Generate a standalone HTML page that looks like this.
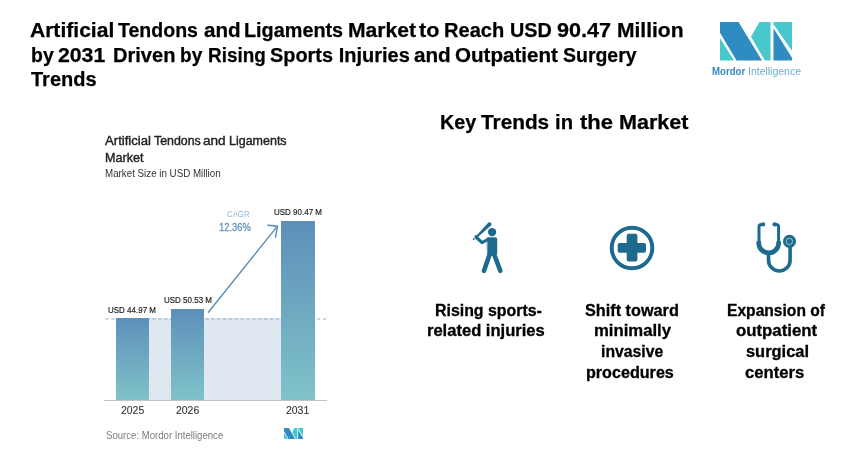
<!DOCTYPE html>
<html><head><meta charset="utf-8">
<style>
html,body{margin:0;padding:0;background:#fff;}
body{width:860px;height:469px;position:relative;overflow:hidden;font-family:"Liberation Sans",sans-serif;}
.a{position:absolute;white-space:nowrap;}
.title{left:31px;top:17.8px;font-size:20px;font-weight:700;line-height:24.3px;color:#000;-webkit-text-stroke:0.25px #000;}
.kt{top:110.3px;font-size:21px;font-weight:700;color:#000;line-height:24px;-webkit-text-stroke:0.25px #000;}
.tr{font-size:16px;font-weight:700;color:#000;line-height:20px;-webkit-text-stroke:0.3px #000;}
.ct{left:105px;top:133px;font-size:12.6px;color:#222;line-height:16.6px;-webkit-text-stroke:0.4px #222;}
.cs{left:105px;top:168.4px;font-size:10.4px;line-height:12px;color:#333;transform:scaleX(0.94);transform-origin:0 0;}
.lbl{font-size:9.9px;line-height:11px;color:#222;transform:scaleX(0.81);transform-origin:0 0;font-weight:400;-webkit-text-stroke:0.2px #222;}
.yr{font-size:11.6px;line-height:13px;color:#333;transform:scaleX(0.9);transform-origin:0 0;-webkit-text-stroke:0.1px #333;}
.bar{position:absolute;background:linear-gradient(#5d8fba,#80c3c8);}
</style></head><body><div style="position:absolute;left:0;top:0;width:860px;height:469px;will-change:transform;background:#fff">
<div class="a title" style="left:30.4px;top:18.3px;transform:scaleX(1.054);transform-origin:1px 0">Artificial</div>
<div class="a title" style="left:118.4px;top:18.3px;transform:scaleX(0.977);transform-origin:0px 0">Tendons</div>
<div class="a title" style="left:203.5px;top:18.3px;transform:scaleX(1.030);transform-origin:1px 0">and</div>
<div class="a title" style="left:244.3px;top:18.3px;transform:scaleX(0.991);transform-origin:1px 0">Ligaments</div>
<div class="a title" style="left:348.3px;top:18.3px;transform:scaleX(1.056);transform-origin:1px 0">Market</div>
<div class="a title" style="left:419.0px;top:18.3px;transform:scaleX(1.080);transform-origin:0px 0">to</div>
<div class="a title" style="left:444.4px;top:18.3px;transform:scaleX(1.003);transform-origin:1px 0">Reach</div>
<div class="a title" style="left:509.9px;top:18.3px;transform:scaleX(0.988);transform-origin:1px 0">USD</div>
<div class="a title" style="left:557.1px;top:18.3px;transform:scaleX(1.080);transform-origin:1px 0">90.47</div>
<div class="a title" style="left:617.0px;top:18.3px;transform:scaleX(1.052);transform-origin:1px 0">Million</div>
<div class="a title" style="left:31.3px;top:42.6px;transform:scaleX(0.973);transform-origin:1px 0">by</div>
<div class="a title" style="left:58.2px;top:42.6px;transform:scaleX(1.063);transform-origin:1px 0">2031</div>
<div class="a title" style="left:112.6px;top:42.6px;transform:scaleX(1.003);transform-origin:1px 0">Driven</div>
<div class="a title" style="left:179.8px;top:42.6px;transform:scaleX(0.950);transform-origin:1px 0">by</div>
<div class="a title" style="left:207.6px;top:42.6px;transform:scaleX(0.944);transform-origin:1px 0">Rising</div>
<div class="a title" style="left:270.3px;top:42.6px;transform:scaleX(0.994);transform-origin:1px 0">Sports</div>
<div class="a title" style="left:338.7px;top:42.6px;transform:scaleX(1.000);transform-origin:1px 0">Injuries</div>
<div class="a title" style="left:414.4px;top:42.6px;transform:scaleX(1.033);transform-origin:1px 0">and</div>
<div class="a title" style="left:454.9px;top:42.6px;transform:scaleX(1.029);transform-origin:1px 0">Outpatient</div>
<div class="a title" style="left:562.8px;top:42.6px;transform:scaleX(0.973);transform-origin:1px 0">Surgery</div>
<div class="a title" style="top:66.9px">Trends</div>

<!-- logo -->
<svg class="a" style="left:720px;top:22.2px" width="72" height="38.6" viewBox="0 0 72 38.6">
<polygon fill="#2e8cc0" points="0,0 18.5,0 42,38.6 16.5,38.6 0,10.8"/>
<polygon fill="#46c8cc" points="0,16.3 14,38.6 0,38.6"/>
<polygon fill="#46c8cc" points="39.5,0 50.5,0 50.5,38.6 45,38.6 31,14.8"/>
<polygon fill="#46c8cc" points="53.5,0 72,0 72,28.8 53.5,2.3"/>
<polygon fill="#2e8cc0" points="53.5,6.3 72,35.8 72,38.6 53.5,38.6"/>
</svg>
<div class="a" style="left:712px;top:64.8px;font-size:11px;line-height:13px;font-weight:700;color:#3a8bc0;transform:scaleX(0.876);transform-origin:0 0;">Mordor</div>
<div class="a" style="left:748.3px;top:64.8px;font-size:11px;line-height:13px;color:#6aaed0;transform:scaleX(0.952);transform-origin:0 0;">Intelligence</div>

<!-- chart -->
<div class="a ct" style="left:105.3px;transform:scaleX(1.044);transform-origin:0px 0">Artificial</div>
<div class="a ct" style="left:153.9px;transform:scaleX(0.983);transform-origin:0px 0">Tendons</div>
<div class="a ct" style="left:203.4px;transform:scaleX(1.082);transform-origin:1px 0">and</div>
<div class="a ct" style="left:228.8px;transform:scaleX(0.991);transform-origin:1px 0">Ligaments</div>
<div class="a ct" style="top:149.6px">Market</div>
<div class="a cs">Market Size in USD Million</div>

<div class="a" style="left:116px;top:318px;width:199px;height:83px;background:#dfe8f0;"></div>
<svg class="a" style="left:0;top:0" width="860" height="469"><line x1="105.36" y1="319" x2="328" y2="319" stroke="#8fb0c8" stroke-width="1.1" stroke-dasharray="3.3,2.58"/></svg>
<div class="bar" style="left:116px;top:318px;width:33px;height:82.5px;"></div>
<div class="bar" style="left:171px;top:309px;width:33px;height:91.5px;"></div>
<div class="bar" style="left:281.2px;top:221px;width:33.5px;height:179.5px;"></div>
<svg class="a" style="left:0;top:0" width="860" height="469">
<line x1="104" y1="400.5" x2="327" y2="400.5" stroke="#c4c4c4" stroke-width="1"/>
<g stroke="#5a8db5" stroke-width="1.4" fill="none" stroke-linecap="round">
<line x1="208.4" y1="312.2" x2="277.2" y2="226.4"/>
<polyline points="267.8,225.3 277.4,226.2 275.6,237.2"/>
</g>
</svg>
<div class="a lbl" style="left:108px;top:304.1px;">USD 44.97 M</div>
<div class="a lbl" style="left:163.5px;top:294.1px;">USD 50.53 M</div>
<div class="a lbl" style="left:273.5px;top:206.1px;">USD 90.47 M</div>
<div class="a" style="left:227.2px;top:208.6px;font-size:8.9px;line-height:10px;color:#93b6cf;transform:scaleX(0.88);transform-origin:0 0;">CAGR</div>
<div class="a" style="left:218.9px;top:220.8px;font-size:11.4px;line-height:13px;color:#5f93bd;transform:scaleX(0.825);transform-origin:0 0;-webkit-text-stroke:0.3px #5f93bd;">12.36%</div>
<div class="a yr" style="left:120.8px;top:403px;">2025</div>
<div class="a yr" style="left:176px;top:403px;">2026</div>
<div class="a yr" style="left:286px;top:403px;">2031</div>
<div class="a" style="left:106px;top:429px;font-size:10.6px;line-height:13px;color:#7d7d7d;transform:scaleX(0.905);transform-origin:0 0;">Source: Mordor Intelligence</div>
<svg class="a" style="left:283.8px;top:427.8px" width="19.1" height="11" viewBox="0 0 72 38.6" preserveAspectRatio="none">
<polygon fill="#2e8cc0" points="0,0 18.5,0 42,38.6 16.5,38.6 0,10.8"/>
<polygon fill="#46c8cc" points="0,16.3 14,38.6 0,38.6"/>
<polygon fill="#46c8cc" points="39.5,0 50.5,0 50.5,38.6 45,38.6 31,14.8"/>
<polygon fill="#46c8cc" points="53.5,0 72,0 72,28.8 53.5,2.3"/>
<polygon fill="#2e8cc0" points="53.5,6.3 72,35.8 72,38.6 53.5,38.6"/>
</svg>

<!-- key trends -->
<div class="a kt" style="left:439.6px;transform:scaleX(0.941);transform-origin:1px 0">Key</div>
<div class="a kt" style="left:481.4px;transform:scaleX(0.990);transform-origin:0px 0">Trends</div>
<div class="a kt" style="left:555.2px;transform:scaleX(0.962);transform-origin:1px 0">in</div>
<div class="a kt" style="left:580.0px;transform:scaleX(1.048);transform-origin:0px 0">the</div>
<div class="a kt" style="left:619.0px;transform:scaleX(1.027);transform-origin:1px 0">Market</div>

<svg class="a" style="left:0;top:0" width="860" height="469">
<!-- baseball player -->
<g fill="#1d6a8e" stroke="#1d6a8e" stroke-linecap="round" stroke-linejoin="round">
<circle cx="492.1" cy="232.1" r="4.15" stroke="none"/>
<circle cx="489.6" cy="224.1" r="1.9" stroke="none"/>
<polygon points="490.94,225.45 488.26,222.75 476.8,235.29 478.2,236.71" stroke="none"/>
<circle cx="476.4" cy="237" r="2" stroke="none"/>
<circle cx="473.7" cy="239.2" r="0.9" stroke="none"/>
<polyline points="476.5,237.5 482,242.6 488.5,239.2" fill="none" stroke-width="3.1"/>
<path d="M487.4,237.4 H495.4 Q497,237.4 497,239 V253.8 L492,255.5 L487.4,253.8 Z" stroke-width="0.4"/>
<line x1="489.6" y1="254.4" x2="484" y2="270.8" stroke-width="4.6"/>
<line x1="494.2" y1="254.4" x2="500.3" y2="270.8" stroke-width="4.6"/>
</g>
<!-- medical cross -->
<circle cx="632" cy="248" r="20.3" fill="none" stroke="#1d6a8e" stroke-width="3.9"/>
<rect x="617.7" y="243.1" width="28.3" height="9.6" rx="2" fill="#1d6a8e"/>
<rect x="626.7" y="233.7" width="10.7" height="27.7" rx="2" fill="#1d6a8e"/>
<!-- stethoscope -->
<g fill="none" stroke="#1d6a8e">
<path d="M763,224.4 H761.5 A2.5,2.5 0 0 0 759,226.9 V242" stroke-width="3"/>
<path d="M774.6,224.4 H776.1 A2.5,2.5 0 0 1 778.6,226.9 V242" stroke-width="3"/>
<path d="M758.75,241.2 V243 A9.95,9.95 0 0 0 778.65,243 V241.2" stroke-width="4.7"/>
<path d="M768.5,252 V260.2 A10.8,10.8 0 0 0 790.1,260.2 V246" stroke-width="3.6"/>
</g>
<circle cx="763.1" cy="224.4" r="2.1" fill="#1d6a8e"/>
<circle cx="774.6" cy="224.4" r="2.1" fill="#1d6a8e"/>
<circle cx="789.5" cy="241.3" r="6.5" fill="#1d6a8e"/>
<circle cx="789.4" cy="241.4" r="3.2" fill="none" stroke="#fff" stroke-opacity="0.7" stroke-width="0.8"/>
</svg>

<div class="a tr" style="left:434.5px;top:300.80px;transform:scaleX(0.993);transform-origin:1px 0">Rising sports-</div>
<div class="a tr" style="left:427.3px;top:320.7px;transform:scaleX(1.035);transform-origin:1px 0">related injuries</div>
<div class="a tr" style="left:584.9px;top:300.80px;transform:scaleX(1.015);transform-origin:1px 0">Shift toward</div>
<div class="a tr" style="left:593.6px;top:320.7px;transform:scaleX(1.044);transform-origin:1px 0">minimally</div>
<div class="a tr" style="left:601.1px;top:342.30px;transform:scaleX(0.984);transform-origin:1px 0">invasive</div>
<div class="a tr" style="left:586.3px;top:363.05px;transform:scaleX(1.008);transform-origin:1px 0">procedures</div>
<div class="a tr" style="left:727.4px;top:300.80px;transform:scaleX(0.975);transform-origin:1px 0">Expansion of</div>
<div class="a tr" style="left:736.1px;top:320.7px;transform:scaleX(1.050);transform-origin:1px 0">outpatient</div>
<div class="a tr" style="left:745.7px;top:342.30px;transform:scaleX(1.027);transform-origin:1px 0">surgical</div>
<div class="a tr" style="left:745.4px;top:363.05px;transform:scaleX(1.040);transform-origin:1px 0">centers</div>
</div></body></html>
